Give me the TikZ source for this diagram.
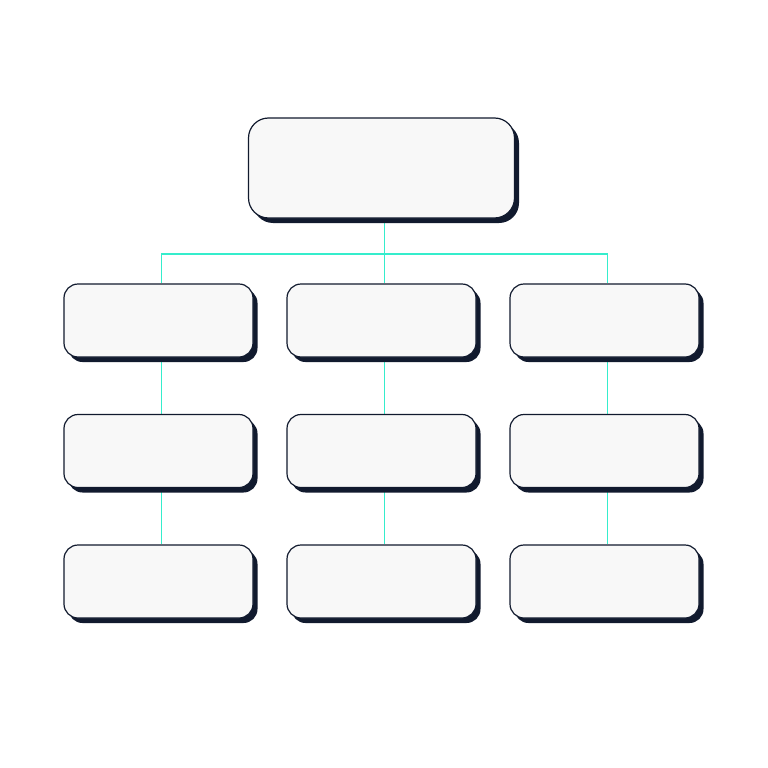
\documentclass[tikz,border=0pt]{standalone}
\usetikzlibrary{shadows,backgrounds}
\definecolor{navy}{HTML}{111A2E}
\definecolor{linecol}{HTML}{35EDCC}
\definecolor{boxfill}{HTML}{F8F8F8}
\begin{document}
\begin{tikzpicture}[x=1pt,y=-1pt,
  card/.style={draw=navy, line width=1.2pt, fill=boxfill, rounded corners=14pt,
    minimum width=189pt, minimum height=73pt, inner sep=0pt,
    drop shadow={shadow xshift=4.5pt, shadow yshift=-5pt, fill=navy, opacity=1}},
  bigcard/.style={card, rounded corners=20pt, minimum width=266pt, minimum height=100pt},
  link/.style={draw=linecol, line width=1.4pt}]
\useasboundingbox (0,0) rectangle (768,768);
\node[bigcard] (top) at (381.5,168) {};
\node[card] (a1) at (158.5,320.5) {};
\node[card] (a2) at (381.5,320.5) {};
\node[card] (a3) at (604.5,320.5) {};
\node[card] (b1) at (158.5,451) {};
\node[card] (b2) at (381.5,451) {};
\node[card] (b3) at (604.5,451) {};
\node[card] (c1) at (158.5,581.5) {};
\node[card] (c2) at (381.5,581.5) {};
\node[card] (c3) at (604.5,581.5) {};
\begin{scope}[on background layer]
\fill[white] (0,0) rectangle (768,768);
\draw[link] ([xshift=3pt]top.south) -- ([xshift=3pt]a2.north);
\draw[link] ([xshift=3pt]a1.north) -- ++(0,-29.5) -| ([xshift=3pt]a3.north);
\foreach \c in {1,2,3}{
  \draw[link] ([xshift=3pt]a\c.south) -- ([xshift=3pt]b\c.north);
  \draw[link] ([xshift=3pt]b\c.south) -- ([xshift=3pt]c\c.north);
}
\end{scope}
\end{tikzpicture}
\end{document}
